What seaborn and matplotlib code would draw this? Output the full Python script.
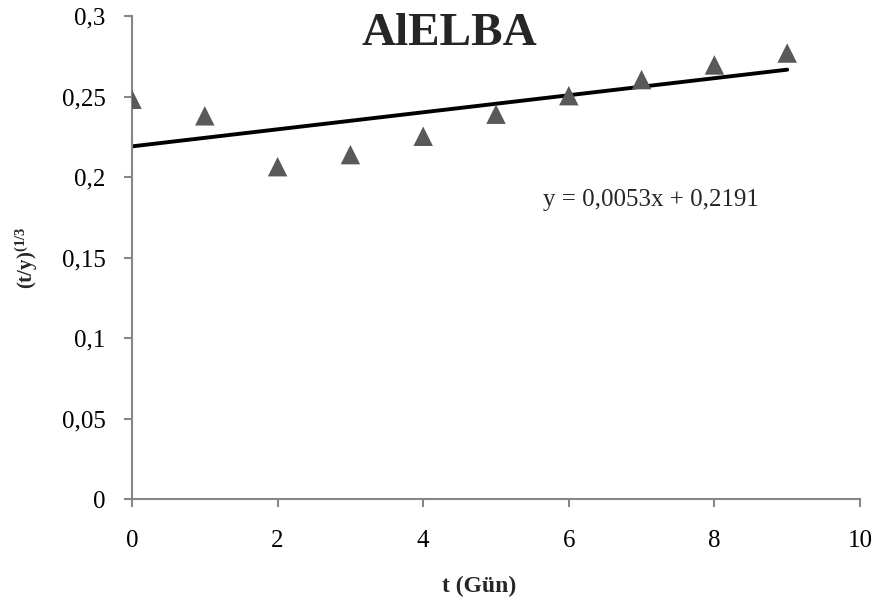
import matplotlib
matplotlib.use("Agg")
import matplotlib.pyplot as plt
import matplotlib.transforms as mtransforms
import seaborn as sns
import pandas as pd

# Data
days = [0, 1, 2, 3, 4, 5, 6, 7, 8, 9]
values = [0.2483, 0.2380, 0.2064, 0.2139, 0.2253, 0.2390, 0.2505, 0.2605, 0.2696, 0.2770]
x_ticks = [0, 2, 4, 6, 8, 10]
y_ticks = [0, 0.05, 0.1, 0.15, 0.2, 0.25, 0.3]
y_tick_labels = ["0", "0,05", "0,1", "0,15", "0,2", "0,25", "0,3"]
title = "AlELBA"
equation = "y = 0,0053x + 0,2191"

df = pd.DataFrame({"t": days, "v": values})

sns.set_style("white")
plt.rcParams["font.family"] = ["Liberation Serif", "DejaVu Serif"]
plt.rcParams["mathtext.fontset"] = "custom"
plt.rcParams["mathtext.rm"] = "Liberation Serif"
plt.rcParams["mathtext.bf"] = "Liberation Serif:bold"
plt.rcParams["mathtext.it"] = "Liberation Serif:italic"

fig = plt.figure(figsize=(8.76, 6.06), dpi=100)
ax = fig.add_axes([132 / 876, 1 - 499 / 606, (860 - 132) / 876, (499 - 16) / 606])

sns.regplot(data=df, x="t", y="v", ax=ax, ci=None, marker="^",
            scatter_kws=dict(s=14 ** 2, color="#595959", alpha=1,
                             edgecolors="none", zorder=3),
            line_kws=dict(color="black", lw=2.8, zorder=2))

ax.set_xlim(0, 10)
ax.set_ylim(0, 0.3)
ax.set_xticks(x_ticks)
ax.set_xticklabels([str(v) for v in x_ticks])
ax.set_yticks(y_ticks)
ax.set_yticklabels(y_tick_labels)

for s in ["top", "right"]:
    ax.spines[s].set_visible(False)
for s in ["left", "bottom"]:
    ax.spines[s].set_color("#868686")
    ax.spines[s].set_linewidth(1.5)

ax.tick_params(axis="both", which="both", direction="out", length=6, width=1.5,
               color="#868686", labelsize=18, labelcolor="black")
ax.tick_params(axis="x", pad=16, bottom=True)
ax.tick_params(axis="y", pad=13, left=True)

ax.set_xlabel("t (Gün)", fontsize=17, fontweight="bold")
ax.xaxis.set_label_coords((479 - 132) / 728, (499 - 586) / 483)
ax.xaxis.label.set_va("center")
ax.set_ylabel(r"$\mathbf{(t/y)^{(1/3}}$", fontsize=15)
ax.yaxis.set_label_coords((27 - 132) / 728, 0.5)
ax.yaxis.label.set_va("center")

fig.text(449 / 876, 1 - 34 / 606, title, ha="center", va="center",
         fontsize=34, fontweight="bold")
fig.text(543 / 876, 1 - 200 / 606, equation, fontsize=18, ha="left", va="center")

fig.savefig("out.png", dpi=100)
